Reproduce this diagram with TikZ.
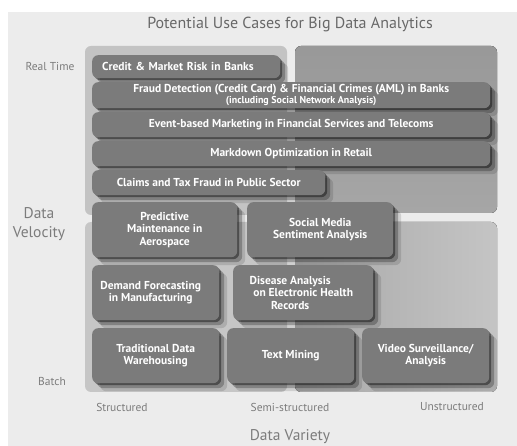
\documentclass[tikz,border=0pt]{standalone}
\usepackage{fontspec}
\setmainfont{PT Sans}
\usetikzlibrary{positioning,shadows}
\definecolor{panelgrey}{HTML}{ECECEC}
\definecolor{boxgrey}{HTML}{7B7B7B}
\definecolor{axisgrey}{HTML}{7C7C7C}
\definecolor{titlegrey}{HTML}{686868}
\definecolor{tlgrey}{HTML}{C3C3C3}
\definecolor{trgrey}{HTML}{A6A6A6}
\definecolor{blgrey}{HTML}{C6C6C6}
\definecolor{brgrey}{HTML}{B6B6B6}
\tikzset{
  softshadow/.style={
    drop shadow={shadow xshift=2pt, shadow yshift=-2pt, opacity=.4, fill=black},
    drop shadow={shadow xshift=5pt, shadow yshift=-5pt, opacity=.25, fill=black},
    drop shadow={shadow xshift=8pt, shadow yshift=-8pt, opacity=.12, fill=black}},
  usecase/.style={rectangle, rounded corners=6pt, fill=boxgrey, text=white, anchor=north west,
    font=\bfseries\fontsize{11.5}{12.5}\selectfont, align=center, inner sep=2pt, softshadow},
  quadrant/.style={rounded corners=6pt},
  axislabel/.style={text=axisgrey, font=\fontsize{11.5}{13}\selectfont},
  axistitle/.style={text=axisgrey, font=\fontsize{15.5}{19}\selectfont, align=center},
}

\begin{document}
\begin{tikzpicture}[x=1pt, y=-1pt]
  \useasboundingbox (0,0) rectangle (517,446);
  \fill[panelgrey] (8,12) rectangle (517,446);

  % four quadrants behind the use cases
  \fill[quadrant, tlgrey] (85,46) rectangle (287,215);
  \fill[quadrant, top color=trgrey!92!black, bottom color=trgrey] (295,46) rectangle (497,213);
  \fill[quadrant, blgrey] (85,222) rectangle (287,392);
  \fill[quadrant, left color=brgrey!92!black, right color=brgrey!80!white] (295,222) rectangle (497,392);

  \node[text=titlegrey, font=\fontsize{16}{18}\selectfont] (title) at (290,25) {Potential Use Cases for Big Data Analytics};

  % real time rows
  \node[usecase, minimum width=188pt, minimum height=23pt, text width=168pt, align=left, inner xsep=10pt] (credit) at (92,55) {Credit \& Market Risk in Banks};
  \node[usecase, minimum width=398pt, minimum height=26pt, inner sep=1pt, font=\bfseries\fontsize{11.5}{11.5}\selectfont] (fraud) at (92,82)
    {Fraud Detection (Credit Card) \& Financial Crimes (AML) in Banks\\{\fontsize{10}{10}\selectfont\hspace*{20pt}(including Social Network Analysis)}};
  \node[usecase, minimum width=398pt, minimum height=25pt] (event) at (92,112) {Event-based Marketing in Financial Services and Telecoms};
  \node[usecase, minimum width=398pt, minimum height=25pt] (markdown) at (92,141) {Markdown Optimization in Retail};
  \node[usecase, minimum width=233pt, minimum height=25pt] (claims) at (92,170) {Claims and Tax Fraud in Public Sector};

  % middle rows
  \node[usecase, minimum width=145pt, minimum height=55pt] (predict) at (92,202) {Predictive\\Maintenance in\\Aerospace};
  \node[usecase, minimum width=146pt, minimum height=55pt] (social) at (247,202) {Social Media\\Sentiment Analysis};
  \node[usecase, minimum width=127pt, minimum height=55pt] (demand) at (92,265)
    {Demand Forecasting\hspace*{10pt}\\in Manufacturing\hspace*{10pt}};
  \node[usecase, minimum width=140pt, minimum height=55pt] (disease) at (233,265)
    {Disease Analysis\hspace*{26pt}\\on Electronic Health\hspace*{26pt}\\Records\hspace*{26pt}};

  % batch row
  \node[usecase, minimum width=127pt, minimum height=55pt] (warehouse) at (92,328) {Traditional Data\\Warehousing};
  \node[usecase, minimum width=127pt, minimum height=55pt] (textmining) at (227,328) {Text Mining};
  \node[usecase, minimum width=127pt, minimum height=55pt] (video) at (362,328) {Video Surveillance/\\Analysis};

  % axes
  \node[axislabel] (realtime) at (50,67) {Real Time};
  \node[axislabel] (batch) at (52,381) {Batch};
  \node[axistitle] (velocity) at (39,224) {Data\\Velocity};
  \node[axislabel] (structured) at (122,407) {Structured};
  \node[axislabel] (semi) at (290,407) {Semi-structured};
  \node[axislabel] (unstructured) at (452,407) {Unstructured};
  \node[axistitle] (variety) at (290,437) {Data Variety};
\end{tikzpicture}
\end{document}
